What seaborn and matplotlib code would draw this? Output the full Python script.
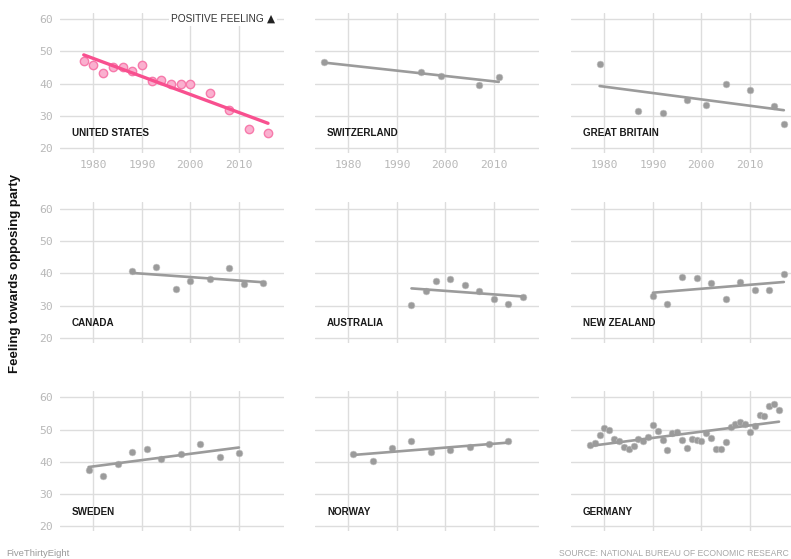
import matplotlib
matplotlib.use("Agg")
import matplotlib.pyplot as plt
import seaborn as sns
import pandas as pd

# Survey years and average feeling (0-100 thermometer) towards the opposing party
us_years = [1978, 1980, 1982, 1984, 1986, 1988, 1990, 1992, 1994, 1996, 1998, 2000, 2004, 2008, 2012, 2016]
us_vals = [47.0, 45.6, 43.3, 45.0, 45.2, 44.0, 45.6, 40.9, 41.1, 39.9, 39.9, 40.0, 37.1, 31.8, 26.0, 24.7]

ch_years = [1975, 1995, 1999, 2007, 2011]
ch_vals = [46.6, 43.5, 42.3, 39.6, 41.9]

gb_years = [1979, 1987, 1992, 1997, 2001, 2005, 2010, 2015, 2017]
gb_vals = [46.1, 31.4, 31.0, 35.0, 33.5, 39.8, 37.9, 33.1, 27.4]

ca_years = [1988, 1993, 1997, 2000, 2004, 2008, 2011, 2015]
ca_vals = [40.8, 41.9, 35.1, 37.6, 38.3, 41.6, 36.6, 36.9]

au_years = [1993, 1996, 1998, 2001, 2004, 2007, 2010, 2013, 2016]
au_vals = [30.2, 34.6, 37.5, 38.3, 36.3, 34.6, 32.1, 30.4, 32.7]

nz_years = [1990, 1993, 1996, 1999, 2002, 2005, 2008, 2011, 2014, 2017]
nz_vals = [33.0, 30.6, 38.8, 38.5, 36.9, 32.0, 37.2, 34.8, 34.8, 39.7]

se_years = [1979, 1982, 1985, 1988, 1991, 1994, 1998, 2002, 2006, 2010]
se_vals = [37.4, 35.6, 39.3, 43.2, 43.9, 40.9, 42.4, 45.7, 41.5, 42.7]

no_years = [1981, 1985, 1989, 1993, 1997, 2001, 2005, 2009, 2013]
no_vals = [42.5, 40.4, 44.3, 46.5, 43.0, 43.6, 44.5, 45.5, 46.5]

de_years = list(range(1977, 2017))
de_vals = [45.4, 45.9, 48.5, 50.5, 49.9, 47.2, 46.6, 44.6, 43.9, 44.9,
           47.1, 46.5, 47.7, 51.6, 49.7, 46.7, 43.8, 48.9, 49.4, 46.7,
           44.4, 47.1, 46.9, 46.4, 48.9, 47.5, 44.1, 44.1, 46.1, 50.9,
           51.9, 52.4, 51.9, 49.3, 51.2, 54.6, 54.2, 57.3, 57.9, 56.1]

countries = ["UNITED STATES", "SWITZERLAND", "GREAT BRITAIN",
             "CANADA", "AUSTRALIA", "NEW ZEALAND",
             "SWEDEN", "NORWAY", "GERMANY"]
series = [(us_years, us_vals), (ch_years, ch_vals), (gb_years, gb_vals),
          (ca_years, ca_vals), (au_years, au_vals), (nz_years, nz_vals),
          (se_years, se_vals), (no_years, no_vals), (de_years, de_vals)]

x_ticks = [1980, 1990, 2000, 2010]
y_ticks = [20, 30, 40, 50, 60]

frames = []
for name, (yrs, vals) in zip(countries, series):
    frames.append(pd.DataFrame({"country": name, "year": yrs, "feeling": vals}))
df = pd.concat(frames, ignore_index=True)

sns.set_theme(style="white")
plt.rcParams["font.family"] = ["Liberation Sans", "DejaVu Sans"]

W, H = 791, 559
fig = plt.figure(figsize=(W / 100, H / 100), dpi=100)
fig.patch.set_facecolor("white")

col_left = [60, 315, 571]
row_top = [12.6, 202.3, 391.0]
ax_w, ax_h = 224, 140.3

PINK = "#f8508f"
PINK_FILL = "#fab0cf"
PINK_EDGE = "#f77aab"
GRAY = "#9b9b9b"
GRID = "#dddddd"
TICK = "#b8b8b8"

for i, name in enumerate(countries):
    r, c = divmod(i, 3)
    ax = fig.add_axes([col_left[c] / W, 1 - (row_top[r] + ax_h) / H, ax_w / W, ax_h / H])
    sub = df[df["country"] == name]
    if name == "UNITED STATES":
        sns.regplot(data=sub, x="year", y="feeling", ax=ax, ci=None,
                    scatter_kws=dict(s=36, color=PINK_FILL, edgecolors=PINK_EDGE, linewidths=1.0,
                                     alpha=1, zorder=3),
                    line_kws=dict(color=PINK, lw=2.4, zorder=4))
    else:
        sns.regplot(data=sub, x="year", y="feeling", ax=ax, ci=None,
                    scatter_kws=dict(s=24, color=GRAY, edgecolors="#c4c4c4", linewidths=0.4,
                                     alpha=1, zorder=3),
                    line_kws=dict(color=GRAY, lw=1.9, zorder=4))
    ax.set_xlim(1973.1, 2019.3)
    ax.set_ylim(18.5, 62)
    ax.set_xticks(x_ticks)
    ax.set_yticks(y_ticks)
    ax.grid(True, color=GRID, lw=1.0, zorder=0)
    ax.set_axisbelow(True)
    for s in ax.spines.values():
        s.set_visible(False)
    ax.set_xlabel("")
    ax.set_ylabel("")
    ax.tick_params(length=0, colors=TICK, labelsize=8.2, pad=5)
    for lab in ax.get_xticklabels() + ax.get_yticklabels():
        lab.set_family(["DejaVu Sans Mono"])
        lab.set_color(TICK)
    if r != 0:
        ax.set_xticklabels([])
    if c != 0:
        ax.set_yticklabels([])
    ax.text(0.054, 24.6, name, transform=ax.get_yaxis_transform(),
            ha="left", va="center", fontsize=7.1, fontweight="bold", color="#1a1a1a")
    if name == "UNITED STATES":
        # direction hint: caption plus a solid triangle pointing up
        ax.text(2017.4, 60, "\u25B2", ha="right", va="center",
                fontsize=7.6, color="#222222", family=["DejaVu Sans"],
                bbox=dict(facecolor="white", edgecolor="none", pad=1.5), zorder=5)
        ax.text(2015.1, 60, "POSITIVE FEELING", ha="right", va="center",
                fontsize=7.3, color="#333333",
                bbox=dict(facecolor="white", edgecolor="none", pad=1.5), zorder=5)

fig.text(15 / W, 1 - 273 / H, "Feeling towards opposing party", rotation=90,
         ha="center", va="center", fontsize=9.5, fontweight="bold", color="#111111")
fig.text(6 / W, 1 - 554 / H, "FiveThirtyEight", ha="left", va="center",
         fontsize=6.8, color="#9a9a9a")
fig.text(789 / W, 1 - 554 / H, "SOURCE: NATIONAL BUREAU OF ECONOMIC RESEARC",
         ha="right", va="center", fontsize=6.2, color="#a8a8a8")

fig.savefig("out.png", dpi=100, facecolor="white")
